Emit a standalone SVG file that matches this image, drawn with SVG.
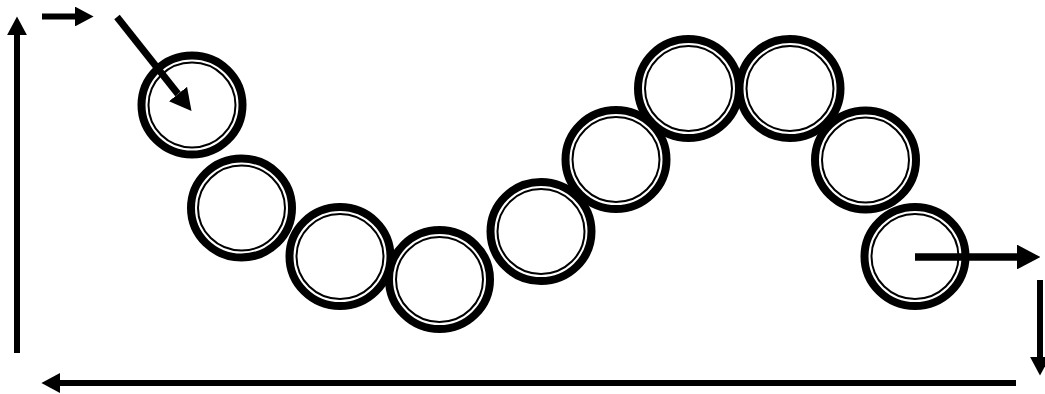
<svg xmlns="http://www.w3.org/2000/svg" width="1045" height="394" viewBox="0 0 1045 394">
  <style>
    .outer { fill: none; stroke: #000; stroke-width: 8; }
    .inner { fill: none; stroke: #000; stroke-width: 2; }
    .arrow { fill: none; stroke: #000; marker-end: url(#head); }
  </style>
  <defs>
    <marker id="head" viewBox="0 0 10 10" refX="0" refY="5" markerWidth="3.1" markerHeight="3.3" markerUnits="strokeWidth" orient="auto" preserveAspectRatio="none">
      <path d="M0,0 L10,5 L0,10 z" fill="#000"/>
    </marker>
    <g id="ring">
      <ellipse class="outer" cx="0" cy="0" rx="50.5" ry="49.5"/>
      <ellipse class="inner" cx="0" cy="0" rx="43.5" ry="42.5"/>
    </g>
  </defs>
  <rect width="1045" height="394" fill="#fff"/>
  <g id="c1"><use href="#ring" x="192" y="105"/></g>
  <g id="c2"><use href="#ring" x="241.5" y="208"/></g>
  <g id="c3"><use href="#ring" x="340" y="256.5"/></g>
  <g id="c4"><use href="#ring" x="439.5" y="279.5"/></g>
  <g id="c5"><use href="#ring" x="541" y="231.5"/></g>
  <g id="c6"><use href="#ring" x="616" y="159.5"/></g>
  <g id="c7"><use href="#ring" x="688.5" y="88.5"/></g>
  <g id="c8"><use href="#ring" x="790" y="88.5"/></g>
  <g id="c9"><use href="#ring" x="865.5" y="160"/></g>
  <g id="c10"><use href="#ring" x="915" y="256.5"/></g>
  <g id="connectors">
    <line class="arrow" x1="17" y1="353" x2="17" y2="35" stroke-width="6"/>
    <line class="arrow" x1="42" y1="16.5" x2="75" y2="16.5" stroke-width="6"/>
    <line class="arrow" x1="117" y1="17" x2="178" y2="94" stroke-width="7"/>
    <line class="arrow" x1="915" y1="257" x2="1017" y2="257" stroke-width="7.5"/>
    <line class="arrow" x1="1040" y1="280" x2="1040" y2="357" stroke-width="6"/>
    <line class="arrow" x1="1016" y1="383" x2="60" y2="383" stroke-width="6"/>
  </g>
</svg>
